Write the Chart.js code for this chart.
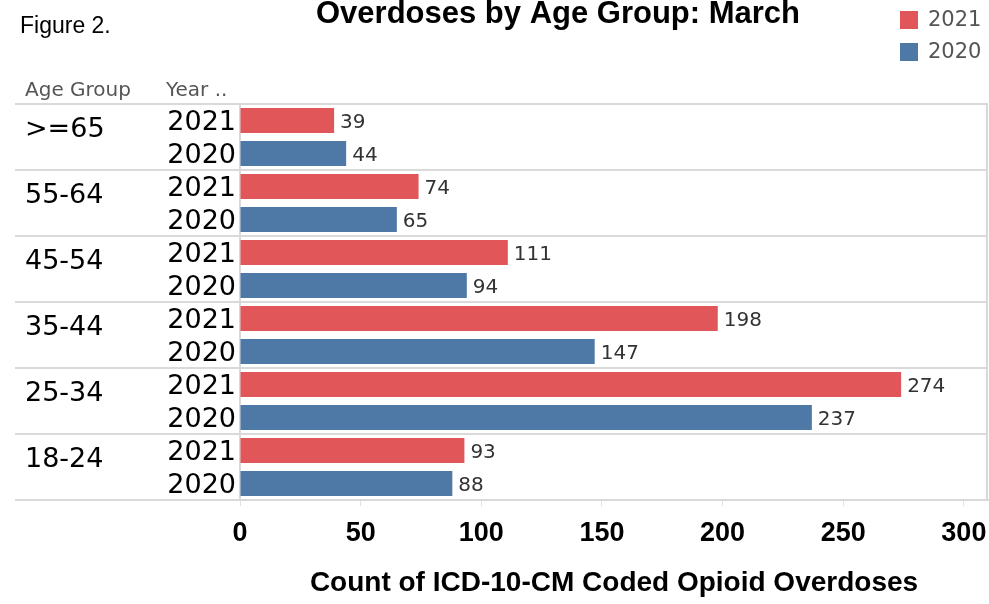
<!DOCTYPE html>
<html>
<head>
<meta charset="utf-8">
<script src="https://cdn.jsdelivr.net/npm/chart.js@4.4.1/dist/chart.umd.min.js"></script>
<style>
  html, body { margin: 0; padding: 0; background: #fff; }
  #wrap { width: 989px; height: 604px; }
</style>
</head>
<body>
<div id="wrap"><canvas id="chart" width="989" height="604"></canvas></div>
<script>
const ageGroups = ['>=65', '55-64', '45-54', '35-44', '25-34', '18-24'];
const years = ['2021', '2020'];
const counts2021 = [39, 74, 111, 198, 274, 93];
const counts2020 = [44, 65, 94, 147, 237, 88];
const xTicks = [0, 50, 100, 150, 200, 250, 300];
const yearColors = ['#e15759', '#4e79a7'];

// one row per age group / year pair
const rowLabels = [];
const rowValues = [];
const rowColors = [];
ageGroups.forEach((g, i) => {
    rowLabels.push(years[0], years[1]);
    rowValues.push(counts2021[i], counts2020[i]);
    rowColors.push(yearColors[0], yearColors[1]);
});

const tabFont = 'DejaVu Sans';
const lineColor = '#d9d9d9';

const decor = {
    id: 'decor',
    beforeDatasetsDraw(chart) {
        const { ctx, chartArea: a, scales: { y } } = chart;
        const half = (y.getPixelForValue(1) - y.getPixelForValue(0)) / 2;
        ctx.save();
        ctx.strokeStyle = lineColor;
        ctx.lineWidth = 2;
        // separators between age groups
        for (let i = 0; i <= ageGroups.length; i++) {
            const py = Math.round(y.getPixelForValue(i * 2) - half);
            ctx.beginPath();
            ctx.moveTo(15, py);
            ctx.lineTo(a.right, py);
            ctx.stroke();
        }
        ctx.beginPath();
        ctx.moveTo(a.right - 1, a.top);
        ctx.lineTo(a.right - 1, a.bottom);
        ctx.stroke();

        // age group labels
        ctx.fillStyle = '#000';
        ctx.font = '27px "' + tabFont + '"';
        ctx.textAlign = 'left';
        ctx.textBaseline = 'middle';
        ageGroups.forEach((g, i) => {
            ctx.fillText(g, 25, y.getPixelForValue(i * 2) + 9);
        });
        ctx.restore();
    },
    afterDatasetsDraw(chart) {
        const { ctx } = chart;
        const meta = chart.getDatasetMeta(0);
        ctx.save();
        ctx.fillStyle = '#333';
        ctx.font = '20px "' + tabFont + '"';
        ctx.textAlign = 'left';
        ctx.textBaseline = 'middle';
        meta.data.forEach((bar, i) => {
            ctx.fillText(rowValues[i], bar.x + 6, bar.y + 2);
        });
        ctx.restore();
    },
    afterDraw(chart) {
        const { ctx } = chart;
        ctx.save();
        ctx.textBaseline = 'alphabetic';
        ctx.textAlign = 'left';
        ctx.fillStyle = '#000';
        ctx.font = '23px "Liberation Sans"';
        ctx.fillText('Figure 2.', 20, 33);

        ctx.font = 'bold 31px "Liberation Sans"';
        ctx.textAlign = 'center';
        ctx.fillText('Overdoses by Age Group: March', 558, 23);

        // column headers
        ctx.textAlign = 'left';
        ctx.fillStyle = '#555';
        ctx.font = '20px "' + tabFont + '"';
        ctx.fillText('Age Group', 25, 96);
        ctx.fillText('Year ..', 166, 96);

        // legend
        ctx.font = '21px "' + tabFont + '"';
        ctx.textBaseline = 'middle';
        years.forEach((yr, i) => {
            const top = 11 + i * 32;
            ctx.fillStyle = yearColors[i];
            ctx.fillRect(900, top, 18, 18);
            ctx.fillStyle = '#555';
            ctx.fillText(yr, 928, top + 10);
        });
        ctx.restore();
    }
};

const ctx = document.getElementById('chart').getContext('2d');
new Chart(ctx, {
    type: 'bar',
    data: {
        labels: rowLabels,
        datasets: [{
            label: 'Count',
            data: rowValues,
            backgroundColor: rowColors,
            borderWidth: 0,
            categoryPercentage: 1,
            barPercentage: 0.76
        }]
    },
    options: {
        indexAxis: 'y',
        responsive: false,
        animation: false,
        layout: { padding: { top: 104, right: 1, bottom: 0, left: 0 } },
        plugins: {
            legend: { display: false },
            tooltip: { enabled: false }
        },
        scales: {
            x: {
                min: 0,
                max: 310,
                afterBuildTicks: scale => {
                    scale.ticks = xTicks.map(v => ({ value: v }));
                },
                afterFit: scale => {
                    scale.height = 104;
                    scale.paddingLeft = 0;
                    scale.paddingRight = 0;
                },
                grid: { drawOnChartArea: false, drawTicks: true, tickLength: 6, color: '#e3e3e3' },
                border: { display: true, color: lineColor, width: 2 },
                ticks: {
                    padding: 11,
                    color: '#000',
                    font: { family: 'Liberation Sans', size: 27, weight: 'bold' }
                },
                title: {
                    display: true,
                    text: 'Count of ICD-10-CM Coded Opioid Overdoses',
                    color: '#000',
                    font: { family: 'Liberation Sans', size: 28, weight: 'bold' },
                    padding: { top: 0, bottom: 4 }
                }
            },
            y: {
                afterFit: scale => { scale.width = 240; },
                grid: { display: false, drawTicks: false },
                border: { display: true, color: lineColor, width: 2 },
                ticks: {
                    autoSkip: false,
                    padding: 4,
                    labelOffset: 2,
                    color: '#000',
                    font: { family: tabFont, size: 27 }
                }
            }
        }
    },
    plugins: [decor]
});
</script>
</body>
</html>
